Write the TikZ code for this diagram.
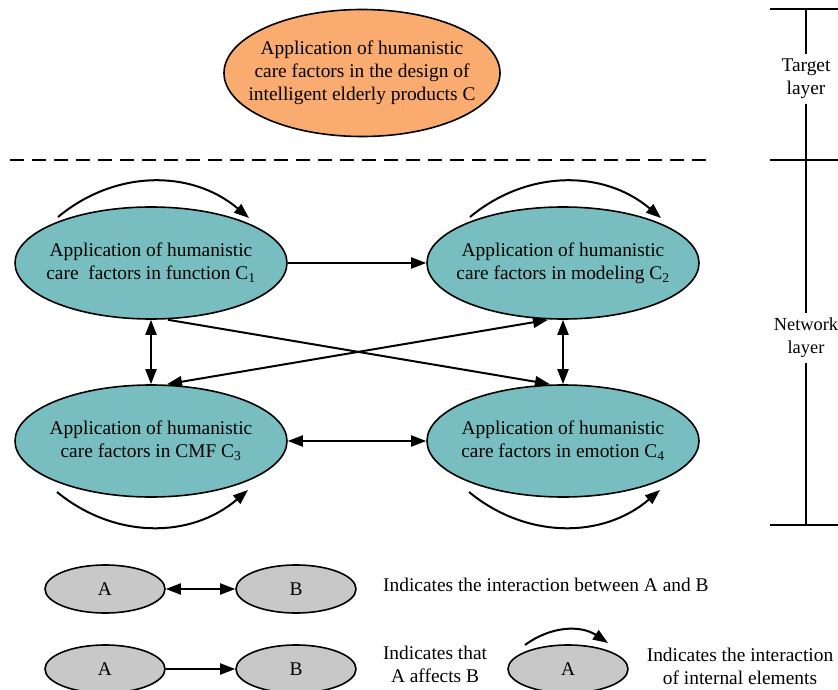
\documentclass[tikz,border=0pt]{standalone}
\usepackage{fontspec}
\setmainfont{Liberation Serif}
\usetikzlibrary{shapes.geometric,arrows.meta}
\definecolor{goalorange}{RGB}{250,172,112}
\definecolor{factorteal}{RGB}{120,190,193}
\definecolor{keygray}{RGB}{200,200,200}

\begin{document}
\begin{tikzpicture}[x=1pt,y=1pt]
\tikzstyle{every node}+=[inner sep=0pt, font=\fontsize{19.4}{23}\selectfont]
\tikzstyle{factor}=[ellipse, draw=black, line width=1.6pt, fill=factorteal, inner xsep=-25pt, minimum width=272pt, minimum height=112pt, align=center]
\tikzstyle{goal}=[factor, fill=goalorange, minimum width=276pt, minimum height=127pt]
\tikzstyle{key}=[ellipse, draw=black, line width=1.6pt, fill=keygray, minimum width=120pt, minimum height=48pt]
\tikzstyle{link}=[black, line width=2pt, -{Triangle[length=15pt,width=11pt]}]
\tikzstyle{both}=[link, {Triangle[length=15pt,width=11pt]}-{Triangle[length=15pt,width=11pt]}]
\tikzstyle{tag}=[align=center, inner sep=5pt]
\tikzstyle{rule}=[black, line width=1.6pt]
\useasboundingbox (0,0) rectangle (838,-690);
\node [goal] (c) at (362,-73) {Application of humanistic\\care factors in the design of\\intelligent elderly products C};
\draw [black, line width=2pt, dash pattern=on 14pt off 8pt] (10,-160) -- (707,-160);
\node [factor] (c1) at (151,-263) {Application of humanistic\\care~ factors in function C\textsubscript{1}};
\node [factor] (c2) at (563,-263) {Application of humanistic\\care factors in modeling C\textsubscript{2}};
\node [factor] (c3) at (151,-441) {Application of humanistic\\care factors in CMF C\textsubscript{3}};
\node [factor] (c4) at (563,-441) {Application of humanistic\\care factors in emotion C\textsubscript{4}};
\draw [link] (c1) -- (c2);
\draw [both] (c3) -- (c4);
\draw [both] (c1) -- (c3);
\draw [both] (c2) -- (c4);
\draw [link] ([xshift=17pt]c1.south) -- ([xshift=-13pt]c4.north);
\draw [both] ([xshift=16pt]c3.north) -- ([xshift=-15pt]c2.south);
\draw [link] ([shift={(-93,46)}]c1.center) to [bend left=40] ([shift={(98,45)}]c1.center);
\draw [link] ([shift={(-93,46)}]c2.center) to [bend left=40] ([shift={(98,45)}]c2.center);
\draw [link] ([shift={(-94,-51)}]c3.center) to [bend right=40] ([shift={(97,-49)}]c3.center);
\draw [link] ([shift={(-94,-51)}]c4.center) to [bend right=40] ([shift={(97,-49)}]c4.center);
\node [tag] (tl) at (806,-79) {Target\\layer};
\node [tag, font=\fontsize{18.4}{23}\selectfont] (nl) at (806,-338) {Network\\layer};
\coordinate (r0) at (806,-9);
\coordinate (r1) at (806,-160);
\coordinate (r2) at (806,-525);
\draw [rule] (r0) -- (tl);
\draw [rule] (tl) -- (nl);
\draw [rule] (nl) -- (r2);
\draw [rule] ([xshift=-36pt]r0) -- ([xshift=32pt]r0);
\draw [rule] ([xshift=-36pt]r1) -- ([xshift=32pt]r1);
\draw [rule] ([xshift=-36pt]r2) -- ([xshift=32pt]r2);
\node [key] (ka1) at (105,-589) {A};
\node [key] (kb1) at (296,-589) {B};
\node [key] (ka2) at (105,-669) {A};
\node [key] (kb2) at (296,-669) {B};
\node [key] (ka3) at (568,-669) {A};
\draw [both] (ka1) -- (kb1);
\draw [link] (ka2) -- (kb2);
\draw [link] ([shift={(-43,24)}]ka3.center) to [bend left=35] ([shift={(40,26)}]ka3.center);
\node [anchor=west] (t1) at (383,-585) {Indicates the interaction between A and B};
\node [tag] (t2) at (435,-664) {Indicates that\\A affects B};
\node [tag] (t3) at (740,-666) {Indicates the interaction\\of internal elements};
\end{tikzpicture}
\end{document}
